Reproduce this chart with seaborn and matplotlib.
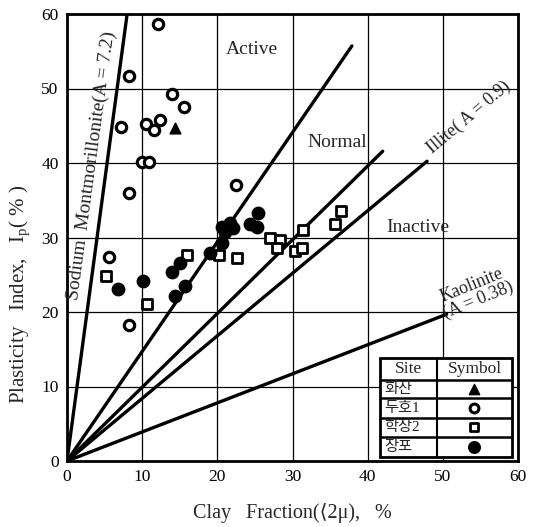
import numpy as np
import pandas as pd
import matplotlib
matplotlib.use("Agg")
import matplotlib.pyplot as plt
from matplotlib.patches import Rectangle
import seaborn as sns

# ---------------- data ----------------
site_names = ["화산", "두호1", "학장2", "장포"]

hwasan_x = [14.4]
hwasan_y = [44.7]

duho_x = [12.1, 8.2, 14.0, 15.6, 7.2, 10.5, 11.6, 12.4, 10.0, 10.9, 8.2, 22.5, 5.6, 8.2]
duho_y = [58.7, 51.7, 49.3, 47.5, 44.8, 45.2, 44.4, 45.8, 40.1, 40.1, 36.0, 37.0, 27.4, 18.3]

hakjang_x = [5.2, 10.6, 16.0, 20.2, 22.6, 27.0, 28.3, 27.9, 30.3, 31.2, 31.4, 36.4, 35.6]
hakjang_y = [24.8, 21.1, 27.7, 27.6, 27.2, 29.9, 29.7, 28.6, 28.2, 28.6, 31.0, 33.5, 31.8]

jangpo_x = [6.8, 10.1, 14.0, 15.0, 14.4, 15.7, 19.0, 20.6, 21.0, 21.7, 22.1, 24.3, 25.4, 25.3, 20.6]
jangpo_y = [23.1, 24.2, 25.4, 26.6, 22.1, 23.5, 27.9, 29.3, 30.7, 32.0, 31.3, 31.8, 33.3, 31.4, 31.4]

# activity reference lines: slope and x at which the drawn line ends
line_names = ["Montmorillonite", "Active/Normal", "Normal/Inactive", "Illite", "Kaolinite"]
line_slopes = [7.5, 1.47, 0.99, 0.84, 0.39]
line_xend = [8.0, 37.9, 42.0, 47.9, 50.5]

x_ticks = [0, 10, 20, 30, 40, 50, 60]
y_ticks = [0, 10, 20, 30, 40, 50, 60]

# ---------------- style ----------------
sns.set_theme(style="white")
plt.rcParams["font.family"] = ["Liberation Serif", "DejaVu Sans", "Noto Sans CJK KR"]
plt.rcParams["mathtext.fontset"] = "custom"
plt.rcParams["mathtext.rm"] = "Liberation Serif"
plt.rcParams["mathtext.it"] = "Liberation Serif:italic"
plt.rcParams["mathtext.bf"] = "Liberation Serif:bold"

fig = plt.figure(figsize=(5.33, 5.27), dpi=100)
ax = fig.add_axes([67 / 533, 66 / 527, 451 / 533, 447 / 527])

ax.set_xlim(0, 60)
ax.set_ylim(0, 60)
ax.set_xticks(x_ticks)
ax.set_yticks(y_ticks)
ax.grid(True, color="black", linewidth=0.9)
ax.set_axisbelow(True)
for sp in ax.spines.values():
    sp.set_color("black")
    sp.set_linewidth(2.0)
ax.tick_params(axis="both", which="major", labelsize=12.5, colors="black",
               direction="out", length=3, width=1, pad=3)

# reference lines
for name, k, xe in zip(line_names, line_slopes, line_xend):
    xs = np.array([0.0, xe])
    sns.lineplot(x=xs, y=k * xs, ax=ax, color="black", linewidth=2.4,
                 estimator=None, sort=False, zorder=2)

# data points
sns.scatterplot(x=hwasan_x, y=hwasan_y, ax=ax, marker="^", s=60,
                color="black", edgecolor="black", linewidth=1, zorder=4)
sns.scatterplot(x=duho_x, y=duho_y, ax=ax, marker="o", s=55,
                color="white", edgecolor="black", linewidth=2.3, zorder=4)
sns.scatterplot(x=hakjang_x, y=hakjang_y, ax=ax, marker="s", s=50,
                color="white", edgecolor="black", linewidth=2.0, zorder=4)
sns.scatterplot(x=jangpo_x, y=jangpo_y, ax=ax, marker="o", s=80,
                color="black", edgecolor="black", linewidth=1, zorder=4)

# annotations
ax.text(24.6, 55.3, "Active", fontsize=14, ha="center", va="center")
ax.text(35.9, 42.7, "Normal", fontsize=14, ha="center", va="center")
ax.text(46.6, 31.4, "Inactive", fontsize=14, ha="center", va="center")
ax.text(3.3, 39.6, "Sodium  Montmorillonite(A = 7.2)", fontsize=14,
        rotation=82.3, ha="center", va="center", rotation_mode="anchor")
ax.text(53.4, 46.2, "Illite( A = 0.9)", fontsize=13, rotation=40,
        ha="center", va="center", rotation_mode="anchor")
ax.text(54.3, 22.6, "Kaolinite\n(A = 0.38)", fontsize=13, rotation=22,
        ha="center", va="center", rotation_mode="anchor", linespacing=0.9)

ax.set_xlabel("Clay   Fraction(⟨2μ),   %", fontsize=14.5)
ax.set_ylabel("Plasticity   Index,   I$_{\\mathrm{p}}$( % )", fontsize=15)
ax.xaxis.set_label_coords(0.50, -0.094)
ax.yaxis.set_label_coords(-0.077, 0.374)

# symbol table (legend)
x0, x1, xm = 0.694, 0.987, 0.820
ys = [0.230, 0.181, 0.141, 0.096, 0.054, 0.009]
ax.add_patch(Rectangle((x0, ys[-1]), x1 - x0, ys[0] - ys[-1], transform=ax.transAxes,
                       facecolor="white", edgecolor="black", linewidth=2.0, zorder=6))
ax.plot([xm, xm], [ys[0], ys[-1]], transform=ax.transAxes, color="black", lw=1.5, zorder=7)
for yv in ys[1:-1]:
    ax.plot([x0, x1], [yv, yv], transform=ax.transAxes, color="black", lw=1.8, zorder=7)
ax.text((x0 + xm) / 2, (ys[0] + ys[1]) / 2, "Site", transform=ax.transAxes,
        fontsize=12.5, ha="center", va="center", zorder=8)
ax.text((xm + x1) / 2, (ys[0] + ys[1]) / 2, "Symbol", transform=ax.transAxes,
        fontsize=12.5, ha="center", va="center", zorder=8)
sym_style = [
    dict(marker="^", s=55, c="black", edgecolors="black", linewidths=1),
    dict(marker="o", s=40, c="white", edgecolors="black", linewidths=2.2),
    dict(marker="s", s=38, c="white", edgecolors="black", linewidths=2.0),
    dict(marker="o", s=70, c="black", edgecolors="black", linewidths=1),
]
for i, name in enumerate(site_names):
    yc = (ys[i + 1] + ys[i + 2]) / 2
    ax.text(x0 + 0.01, yc, name, transform=ax.transAxes, fontsize=11,
            ha="left", va="center", zorder=8)
    ax.scatter([(xm + x1) / 2], [yc], transform=ax.transAxes, zorder=8,
               clip_on=False, **sym_style[i])

fig.savefig("out.png", dpi=100, facecolor="white")
